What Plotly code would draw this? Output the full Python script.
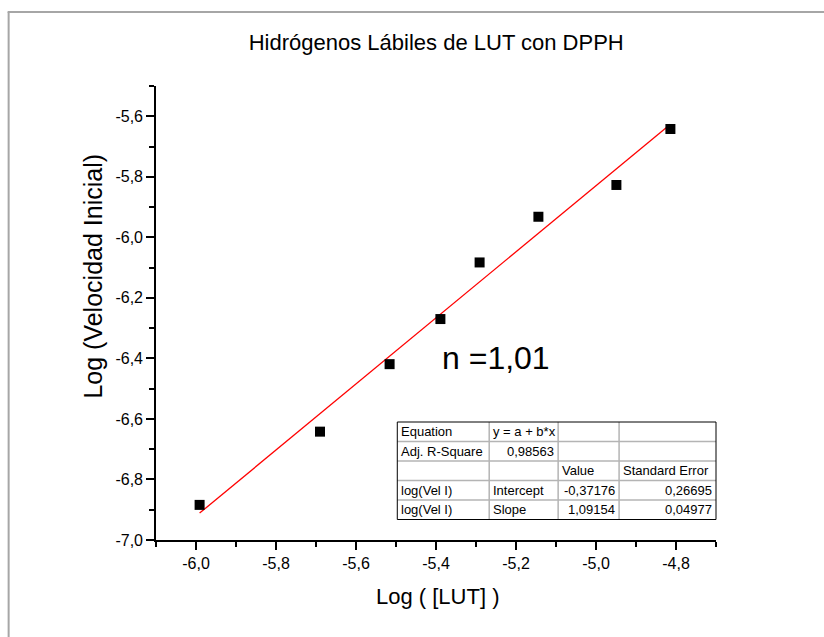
import plotly.graph_objects as go

# ---- data ----
log_lut = [-5.991, -5.690, -5.516, -5.389, -5.291, -5.144, -4.949, -4.814]
log_vel = [-6.884, -6.642, -6.419, -6.270, -6.083, -5.932, -5.827, -5.642]
intercept = -0.37176
slope = 1.09154

x_tickvals = [-6.0, -5.8, -5.6, -5.4, -5.2, -5.0, -4.8]
x_ticktext = ["-6,0", "-5,8", "-5,6", "-5,4", "-5,2", "-5,0", "-4,8"]
y_tickvals = [-7.0, -6.8, -6.6, -6.4, -6.2, -6.0, -5.8, -5.6]
y_ticktext = ["-7,0", "-6,8", "-6,6", "-6,4", "-6,2", "-6,0", "-5,8", "-5,6"]

table_rows = [
    ["Equation", "y = a + b*x", "", ""],
    ["Adj. R-Square", "0,98563", "", ""],
    ["", "", "Value", "Standard Error"],
    ["log(Vel I)", "Intercept", "-0,37176", "0,26695"],
    ["log(Vel I)", "Slope", "1,09154", "0,04977"],
]
table_align = [
    ["left", "left", "left", "left"],
    ["left", "right", "left", "left"],
    ["left", "left", "left", "left"],
    ["left", "left", "right", "right"],
    ["left", "left", "right", "right"],
]

# ---- layout geometry (pixels) ----
W, H = 824, 637
L, R, T, B = 155.5, 716.0, 86.0, 540.0

def px(xp):
    return (xp - L) / (R - L)

def py(yp):
    return (B - yp) / (B - T)

fit_x = [min(log_lut), max(log_lut)]
fit_y = [intercept + slope * v for v in fit_x]

fig = go.Figure()
fig.add_trace(go.Scatter(x=fit_x, y=fit_y, mode="lines",
                         line=dict(color="#ff0000", width=1.3),
                         showlegend=False, hoverinfo="skip"))
fig.add_trace(go.Scatter(x=log_lut, y=log_vel, mode="markers",
                         marker=dict(symbol="square", size=10, color="black",
                                     line=dict(width=0)),
                         showlegend=False))

font_family = "Liberation Sans, Arial, sans-serif"

axis_common = dict(
    showline=True, linecolor="black", linewidth=1.6,
    ticks="outside", ticklen=8, tickwidth=1.6, tickcolor="black",
    showgrid=False, zeroline=False, mirror=False,
    tickfont=dict(size=16, color="black", family=font_family),
)

fig.update_xaxes(range=[-6.1, -4.7], tickvals=x_tickvals, ticktext=x_ticktext,
                 minor=dict(ticks="outside", ticklen=5, tickwidth=1.6, tickcolor="black",
                            dtick=0.1, tick0=-6.1),
                 **axis_common)
fig.update_yaxes(range=[-7.0, -5.5], tickvals=y_tickvals, ticktext=y_ticktext,
                 minor=dict(ticks="outside", ticklen=5, tickwidth=1.6, tickcolor="black",
                            dtick=0.1, tick0=-7.0),
                 **axis_common)

shapes = []
annotations = []

# outer frame (grey) of the picture
frame_col = "#a6a6a6"
shapes.append(dict(type="line", xref="paper", yref="paper",
                   x0=px(8), x1=px(8), y0=py(12), y1=py(700),
                   line=dict(color=frame_col, width=2)))
shapes.append(dict(type="line", xref="paper", yref="paper",
                   x0=px(7), x1=px(830), y0=py(12), y1=py(12),
                   line=dict(color=frame_col, width=2)))

# table
col_edges = [397, 489, 558, 619, 716]
row_edges = [422, 441.5, 461, 480.5, 500, 519.5]
shapes.append(dict(type="rect", xref="paper", yref="paper",
                   x0=px(col_edges[0]), x1=px(col_edges[-1]),
                   y0=py(row_edges[0]), y1=py(row_edges[-1]),
                   fillcolor="white", line=dict(width=0), layer="above"))
for cx in col_edges[1:-1]:
    shapes.append(dict(type="line", xref="paper", yref="paper",
                       x0=px(cx), x1=px(cx), y0=py(row_edges[0]), y1=py(row_edges[-1]),
                       line=dict(color="#b4b4b4", width=1.5), layer="above"))
for ry in row_edges[1:-1]:
    shapes.append(dict(type="line", xref="paper", yref="paper",
                       x0=px(col_edges[0]), x1=px(col_edges[-1]), y0=py(ry), y1=py(ry),
                       line=dict(color="#b4b4b4", width=1.5), layer="above"))
shapes.append(dict(type="rect", xref="paper", yref="paper",
                   x0=px(col_edges[0]), x1=px(col_edges[-1]),
                   y0=py(row_edges[0]), y1=py(row_edges[-1]),
                   line=dict(color="black", width=1), layer="above"))

for i, row in enumerate(table_rows):
    yc = (row_edges[i] + row_edges[i + 1]) / 2
    for j, txt in enumerate(row):
        if not txt:
            continue
        al = table_align[i][j]
        if al == "left":
            xa, anchor = col_edges[j] + 2, "left"
        else:
            xa, anchor = col_edges[j + 1] - 2, "right"
        annotations.append(dict(xref="paper", yref="paper", x=px(xa), y=py(yc),
                                text=txt, showarrow=False, xanchor=anchor, yanchor="middle",
                                font=dict(size=13, color="black", family=font_family)))

annotations.append(dict(xref="paper", yref="paper", x=px(440), y=py(358),
                        text="n =1,01", showarrow=False, xanchor="left", yanchor="middle",
                        font=dict(size=32, color="black", family=font_family)))

# axis titles
annotations.append(dict(xref="paper", yref="paper", x=px(92), y=py(276),
                        text="Log (Velocidad Inicial)", showarrow=False, textangle=-90,
                        xanchor="center", yanchor="middle",
                        font=dict(size=25, color="black", family=font_family)))
annotations.append(dict(xref="paper", yref="paper", x=px(437), y=py(596),
                        text="Log ( [LUT] )", showarrow=False,
                        xanchor="center", yanchor="middle",
                        font=dict(size=22, color="black", family=font_family)))

fig.update_layout(
    width=W, height=H,
    margin=dict(l=L, r=W - R, t=T, b=H - B, autoexpand=False),
    paper_bgcolor="white", plot_bgcolor="white",
    title=dict(text="Hidrógenos Lábiles de LUT con DPPH", x=px(436), xref="paper",
               xanchor="center", y=1 - 42 / H, yanchor="middle",
               font=dict(size=22, color="black", family=font_family)),
    shapes=shapes, annotations=annotations,
    font=dict(family=font_family, color="black"),
)

fig.write_html("out.html")
